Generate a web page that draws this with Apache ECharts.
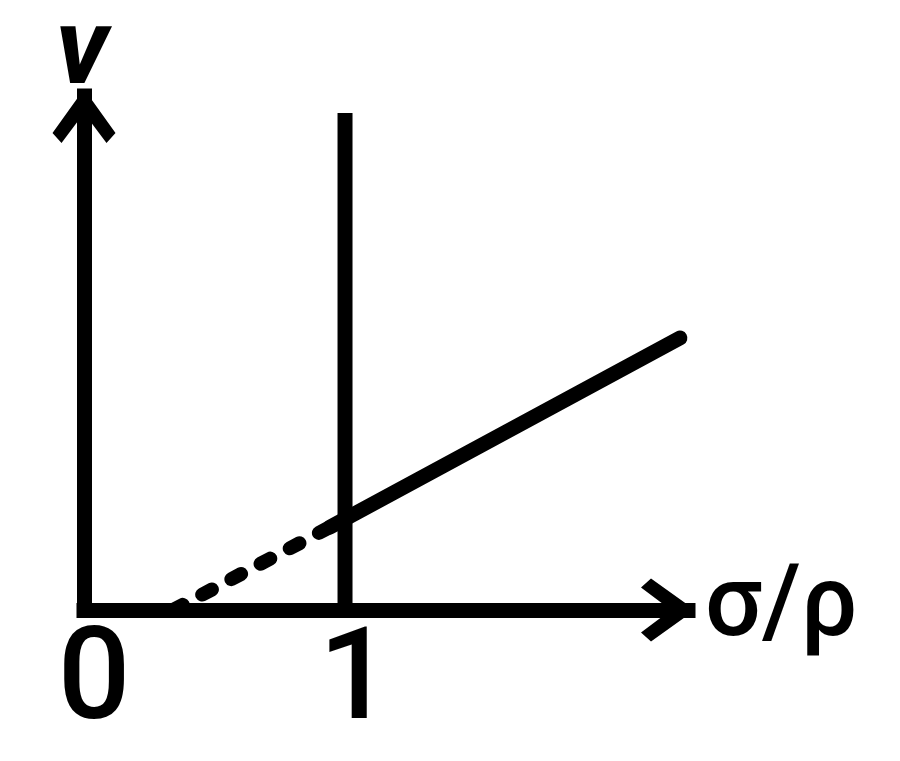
<!DOCTYPE html>
<html lang="en">

<head>
  <meta charset="UTF-8">
  <title>v - σ/ρ</title>
  <style>
    html, body { margin: 0; padding: 0; background: #fff; }
  </style>
</head>

<body>
  <div id="main" style="width: 900px;height: 761px;"></div>
  <script src="https://cdn.jsdelivr.net/npm/echarts@6/dist/echarts.min.js"></script>
  <script>
    // values (x in units of σ/ρ, y arbitrary)
    var xTicks = [0, 1];
    var xMax = 2.314;
    var yMax = 5.14;
    var limitLine = [[1, 0], [1, 4.97]];
    var solidLine = [[0.943, 0.83], [2.283, 2.72]];
    var dashedLine = [[0.341, 0], [0.943, 0.83]];

    var arrow = 'path://M31.5,0 L63,44 L54,54 L31.5,24 L9,54 L0,44 Z';

    var myChart = echarts.init(document.getElementById('main'));

    var axisLine = {
      show: true,
      symbol: ['none', arrow],
      symbolSize: [63, 54],
      symbolOffset: [0, -20],
      lineStyle: {
        color: '#000',
        width: 15,
        cap: 'square'
      }
    };

    myChart.setOption({
      animation: false,
      grid: {
        left: 84,
        right: 212,
        top: 96,
        bottom: 151,
        outerBoundsMode: 'none'
      },
      xAxis: {
        type: 'value',
        min: 0,
        max: xMax,
        name: 'σ/ρ',
        nameLocation: 'end',
        nameGap: 17,
        nameTextStyle: {
          color: '#000',
          fontFamily: 'Roboto',
          fontWeight: 500,
          fontSize: 100,
          padding: [0, 0, 20, 0]
        },
        axisLine: axisLine,
        axisTick: { show: false },
        splitLine: { show: false },
        axisLabel: {
          customValues: xTicks,
          margin: 12,
          padding: [0, 0, 0, 20],
          color: '#000',
          fontFamily: 'Roboto',
          fontWeight: 500,
          fontSize: 128
        }
      },
      yAxis: {
        type: 'value',
        min: 0,
        max: yMax,
        name: 'v',
        nameLocation: 'end',
        nameGap: -14,
        nameTextStyle: {
          color: '#000',
          fontFamily: 'Roboto',
          fontSize: 108,
          fontStyle: 'italic',
          fontWeight: 'bold',
          padding: [0, 4, 0, 0]
        },
        axisLine: axisLine,
        axisTick: { show: false },
        splitLine: { show: false },
        axisLabel: { show: false }
      },
      series: [{
          type: 'line',
          data: limitLine,
          symbol: 'none',
          lineStyle: { color: '#000', width: 15, cap: 'butt' }
        },
        {
          type: 'line',
          data: dashedLine,
          symbol: 'none',
          lineStyle: { color: '#000', width: 14, type: [11, 22], cap: 'round' }
        },
        {
          type: 'line',
          data: solidLine,
          symbol: 'none',
          lineStyle: { color: '#000', width: 15, cap: 'round' }
        }
      ]
    });
  </script>
</body>

</html>
